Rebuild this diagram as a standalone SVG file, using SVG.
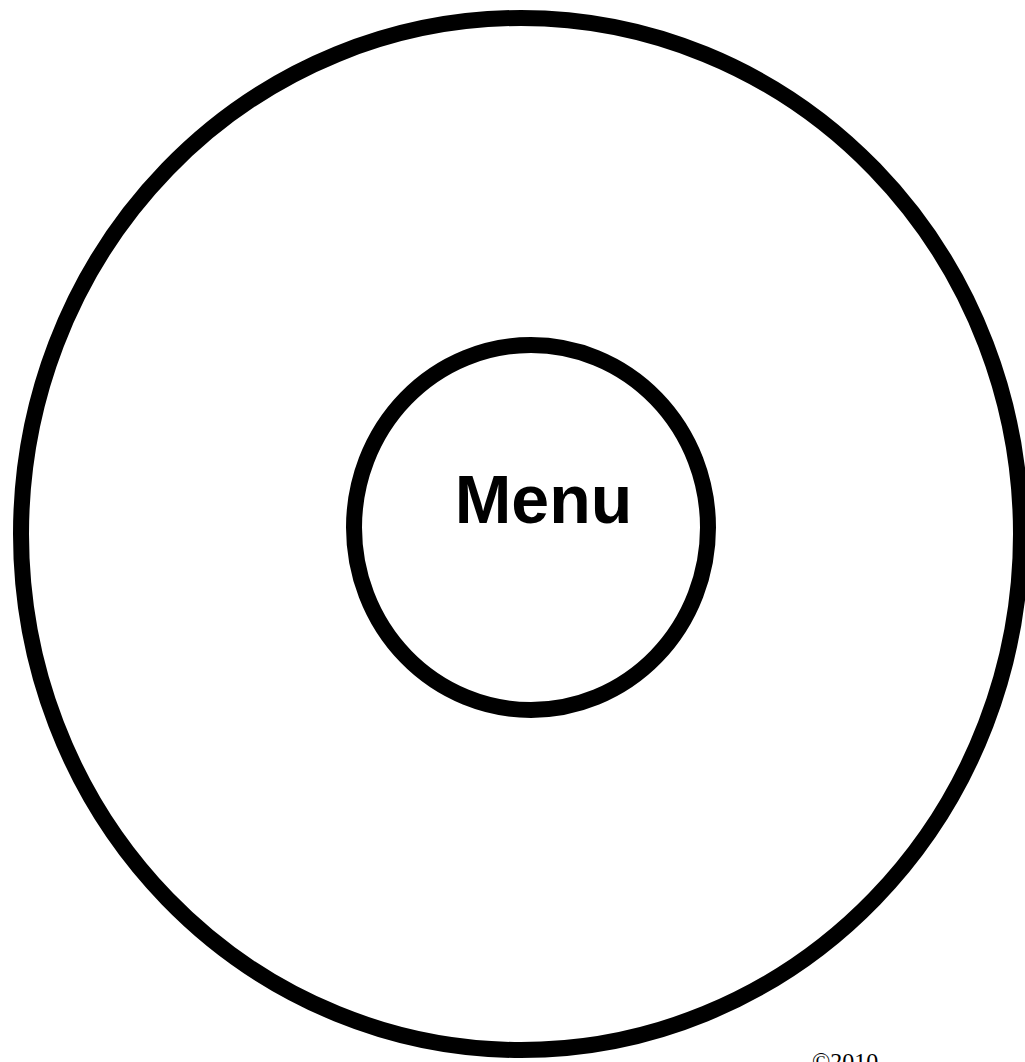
<svg xmlns="http://www.w3.org/2000/svg" width="1025" height="1062" viewBox="0 0 1025 1062">
<style>
.ring{fill:none;stroke:#000;stroke-width:16}
.label{font-family:"Liberation Sans",Arial,sans-serif;font-weight:bold;font-size:68px;fill:#000}
.copy{font-family:"Liberation Serif","Noto Sans",serif;font-size:24px;fill:#000}
</style>
<rect width="1025" height="1062" fill="#fff"/>
<g id="outer">
<ellipse class="ring" cx="521" cy="534" rx="500" ry="516"/>
</g>
<g id="menu">
<ellipse class="ring" cx="531" cy="527.5" rx="177" ry="182.5"/>
<text class="label" x="543.5" y="523" text-anchor="middle">Menu</text>
</g>
<g id="connectors"></g>
<text class="copy" x="812" y="1069">©2010</text>
</svg>
